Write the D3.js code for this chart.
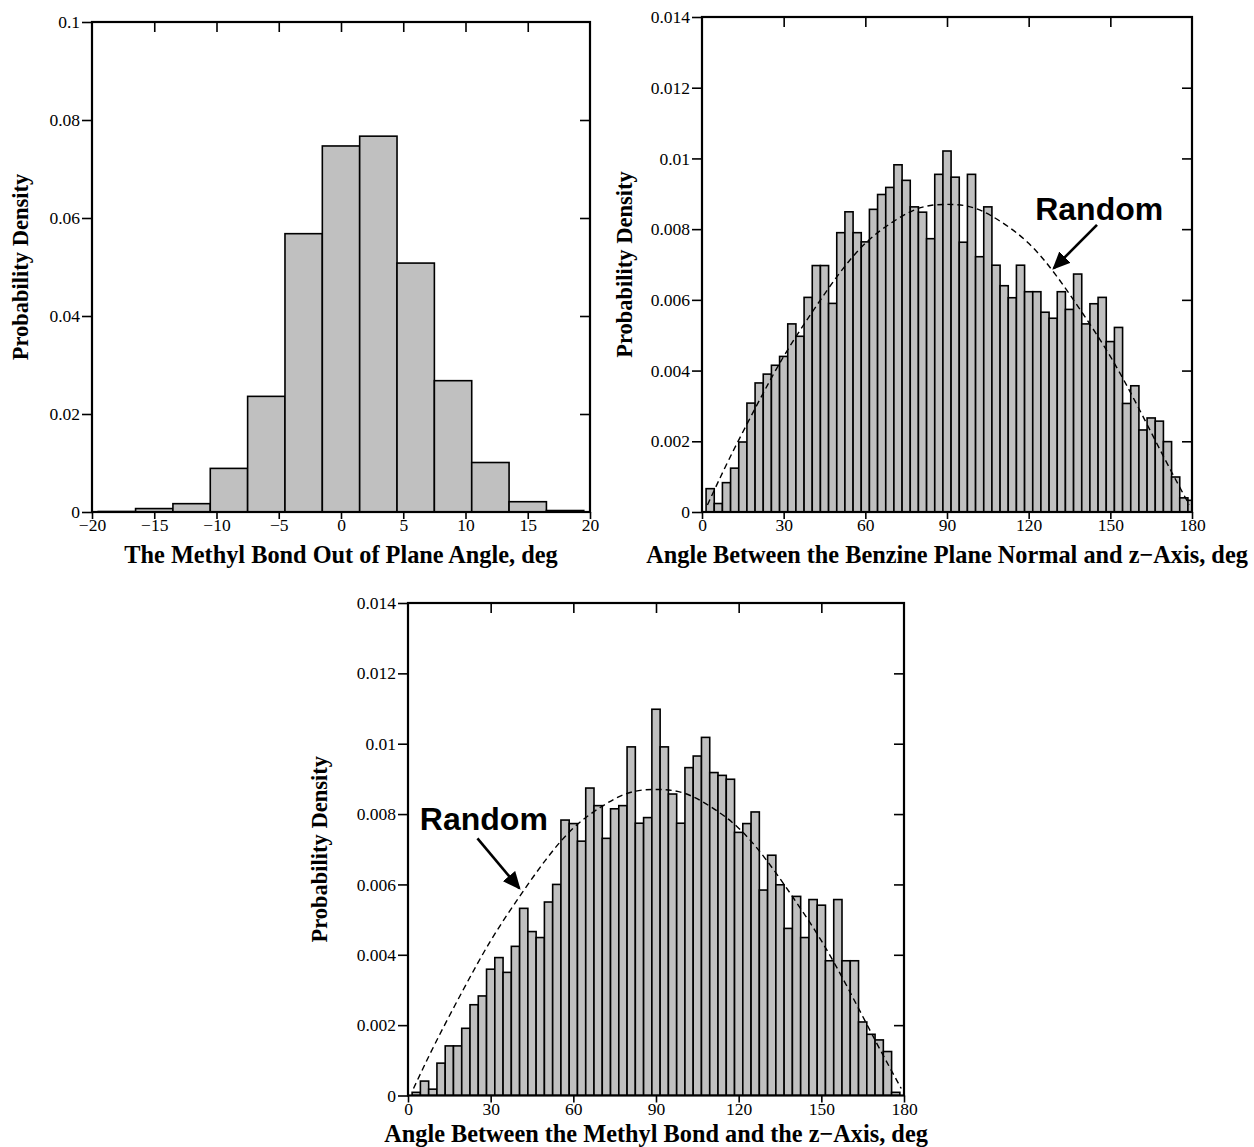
<!DOCTYPE html>
<html>
<head>
<meta charset="utf-8">
<style>
  body { margin: 0; background: #fff; }
  svg { display: block; }
  .tick text { font-family: "Liberation Serif", "Times New Roman", serif; font-size: 17.5px; fill: #000; }
  .tick line { stroke: #000; stroke-width: 1.6px; }
  .axis-title { font-family: "Liberation Serif", "Times New Roman", serif; font-weight: bold; font-size: 24.3px; fill: #000; }
  .y-title { font-family: "Liberation Serif", "Times New Roman", serif; font-weight: bold; font-size: 22.5px; fill: #000; }
  .note { font-family: "Liberation Sans", Arial, sans-serif; font-weight: bold; font-size: 32px; fill: #000; }
</style>
</head>
<body>
<div id="figure"></div>
<script src="https://cdn.jsdelivr.net/npm/d3@7"></script>
<script>

// data
var outOfPlaneBins    = [-18, -15, -12, -9, -6, -3, 0, 3, 6, 9, 12, 15, 18];
var outOfPlaneDensity = [0.0001, 0.0007, 0.0017, 0.0089, 0.0236, 0.0568, 0.0747,
                         0.0767, 0.0508, 0.0268, 0.0101, 0.0021, 0.0003];

// 3 degree bins, centred on 3, 6, ... 180
var angleBins = d3.range(3, 181, 3);

var benzeneDensity = [
  0.00066, 0.00024, 0.00083, 0.00124, 0.00198, 0.00308, 0.00365, 0.00390, 0.00415, 0.00440,
  0.00532, 0.00497, 0.00607, 0.00697, 0.00697, 0.00590, 0.00790, 0.00849, 0.00790, 0.00764,
  0.00856, 0.00898, 0.00918, 0.00982, 0.00938, 0.00863, 0.00848, 0.00773, 0.00955, 0.01021,
  0.00947, 0.00763, 0.00955, 0.00722, 0.00863, 0.00698, 0.00640, 0.00606, 0.00698, 0.00623,
  0.00623, 0.00565, 0.00548, 0.00623, 0.00573, 0.00673, 0.00532, 0.00589, 0.00607, 0.00482,
  0.00522, 0.00307, 0.00357, 0.00232, 0.00266, 0.00257, 0.00199, 0.00099, 0.00040, 0.00033
];

var methylDensity = [
  0.00009, 0.00041, 0.00018, 0.00092, 0.00141, 0.00141, 0.00191, 0.00258, 0.00283, 0.00359,
  0.00392, 0.00350, 0.00424, 0.00532, 0.00466, 0.00449, 0.00550, 0.00600, 0.00783, 0.00773,
  0.00723, 0.00874, 0.00824, 0.00731, 0.00815, 0.00824, 0.00991, 0.00774, 0.00790, 0.01098,
  0.00991, 0.00857, 0.00774, 0.00932, 0.00965, 0.01018, 0.00918, 0.00910, 0.00899, 0.00748,
  0.00773, 0.00806, 0.00584, 0.00683, 0.00599, 0.00475, 0.00566, 0.00449, 0.00557, 0.00541,
  0.00383, 0.00557, 0.00383, 0.00383, 0.00209, 0.00174, 0.00158, 0.00125, 0.00009, 0.00000
];

// dashed "Random" curve
var randomAngles  = [2, 10, 20, 30, 40, 50, 60, 70, 80, 90, 100, 110, 120, 130, 140, 150, 160, 170, 179];
var randomDensity = [0.0002, 0.0015, 0.0030, 0.0044, 0.0056, 0.0067, 0.0076, 0.0082, 0.0086, 0.0087,
                     0.0086, 0.0082, 0.0076, 0.0067, 0.0056, 0.0044, 0.0030, 0.0015, 0.0002];

// ticks
var outOfPlaneTicks        = [-20, -15, -10, -5, 0, 5, 10, 15, 20];
var outOfPlaneDensityTicks = [0, 0.02, 0.04, 0.06, 0.08, 0.1];
var angleTicks             = [0, 30, 60, 90, 120, 150, 180];
var angleDensityTicks      = [0, 0.002, 0.004, 0.006, 0.008, 0.01, 0.012, 0.014];


var svg = d3.select('#figure').append('svg')
    .attr('width', 1254)
    .attr('height', 1147);

svg.append('rect').attr('width', 1254).attr('height', 1147).attr('fill', '#fff');

svg.append('defs').append('marker')
    .attr('id', 'head')
    .attr('markerUnits', 'userSpaceOnUse')
    .attr('viewBox', '0 -8 18 16')
    .attr('refX', 16)
    .attr('refY', 0)
    .attr('markerWidth', 18)
    .attr('markerHeight', 16)
    .attr('orient', 'auto')
  .append('path')
    .attr('d', 'M0,-8L18,0L0,8Z')
    .attr('fill', '#000');

var fmt = d3.format('~g');

function histogram () {

  //config options
  var left = 0, right = 100, top = 0, bottom = 100
    , xDomain = [0, 1], yDomain = [0, 1]
    , xTicks = [], yTicks = []
    , bins = [], values = [], binWidth = 3
    , curveX = null, curveY = null
    , xTitle = '', yTitleX = 0, titleGap = 52
    , note = null
  ;

  function chart(selection) {
    selection.each(function () {

      var g = d3.select(this);
      var x = d3.scaleLinear().domain(xDomain).range([left, right]);
      var y = d3.scaleLinear().domain(yDomain).range([bottom, top]);

      var clipId = 'clip' + Math.round(left) + '_' + Math.round(top);
      g.append('clipPath').attr('id', clipId)
        .append('rect')
          .attr('x', left).attr('y', top)
          .attr('width', right - left).attr('height', bottom - top);

      var plot = g.append('g').attr('clip-path', 'url(#' + clipId + ')');

      plot.selectAll('rect.bar')
          .data(bins.map(function (b, i) { return { x: b, v: values[i] }; }))
          .enter()
          .append('rect')
          .attr('class', 'bar')
          .attr('x', function (d) { return x(Math.max(xDomain[0], d.x - binWidth / 2)); })
          .attr('width', function (d) {
            return x(Math.min(xDomain[1], d.x + binWidth / 2)) - x(Math.max(xDomain[0], d.x - binWidth / 2));
          })
          .attr('y', function (d) { return y(d.v); })
          .attr('height', function (d) { return y(0) - y(d.v); })
          .attr('fill', '#c0c0c0')
          .attr('stroke', '#000')
          .attr('stroke-width', 1.6);

      if (curveX) {
        var line = d3.line()
            .x(function (d, i) { return x(curveX[i]); })
            .y(function (d, i) { return y(curveY[i]); })
            .curve(d3.curveNatural);
        plot.append('path')
            .datum(curveX)
            .attr('d', line)
            .attr('fill', 'none')
            .attr('stroke', '#000')
            .attr('stroke-width', 1.4)
            .attr('stroke-dasharray', '6,4');
      }

      // axes
      var inner = function (t) { return t.slice(1, -1); };

      g.append('g')
          .attr('transform', 'translate(0,' + bottom + ')')
          .call(d3.axisBottom(x).tickValues(xTicks).tickSize(7).tickSizeOuter(0).tickPadding(0).tickFormat(fmt))
          .call(function (a) { a.select('.domain').remove(); });

      g.append('g')
          .attr('transform', 'translate(' + left + ',0)')
          .call(d3.axisLeft(y).tickValues(yTicks).tickSize(10).tickSizeOuter(0).tickPadding(2).tickFormat(fmt))
          .call(function (a) { a.select('.domain').remove(); });

      g.append('g')
          .attr('transform', 'translate(0,' + top + ')')
          .call(d3.axisBottom(x).tickValues(inner(xTicks)).tickSize(10).tickSizeOuter(0).tickFormat(''))
          .call(function (a) { a.select('.domain').remove(); });

      g.append('g')
          .attr('transform', 'translate(' + right + ',0)')
          .call(d3.axisLeft(y).tickValues(inner(yTicks)).tickSize(10).tickSizeOuter(0).tickFormat(''))
          .call(function (a) { a.select('.domain').remove(); });

      g.append('rect')
          .attr('x', left).attr('y', top)
          .attr('width', right - left).attr('height', bottom - top)
          .attr('fill', 'none')
          .attr('stroke', '#000')
          .attr('stroke-width', 2.2);

      // titles
      g.append('text')
          .attr('class', 'axis-title')
          .attr('x', (left + right) / 2)
          .attr('y', bottom + titleGap)
          .attr('text-anchor', 'middle')
          .text(xTitle);

      g.append('text')
          .attr('class', 'y-title')
          .attr('transform', 'translate(' + yTitleX + ',' + ((top + bottom) / 2) + ') rotate(-90)')
          .attr('text-anchor', 'middle')
          .text('Probability Density');

      if (note) {
        g.append('text')
            .attr('class', 'note')
            .attr('x', x(note.text[0]))
            .attr('y', y(note.text[1]))
            .text('Random');
        g.append('line')
            .attr('x1', x(note.tail[0])).attr('y1', y(note.tail[1]))
            .attr('x2', x(note.tip[0])).attr('y2', y(note.tip[1]))
            .attr('stroke', '#000')
            .attr('stroke-width', 2.6)
            .attr('marker-end', 'url(#head)');
      }
    });
  }

  // getter//setters
  chart.frame = function (l, r, t, b) { left = l; right = r; top = t; bottom = b; return chart; };
  chart.domains = function (xd, yd) { xDomain = xd; yDomain = yd; return chart; };
  chart.ticks = function (xt, yt) { xTicks = xt; yTicks = yt; return chart; };
  chart.data = function (b, v) { bins = b; values = v; return chart; };
  chart.curve = function (cx, cy) { curveX = cx; curveY = cy; return chart; };
  chart.titles = function (t, yx, gap) { xTitle = t; yTitleX = yx; titleGap = gap; return chart; };
  chart.note = function (value) { note = value; return chart; };

  return chart;
}


// methyl bond out of plane angle
svg.append('g').call(histogram()
    .frame(92, 590, 22, 512)
    .domains([-20, 20], [0, 0.1])
    .ticks(outOfPlaneTicks, outOfPlaneDensityTicks)
    .data(outOfPlaneBins, outOfPlaneDensity)
    .titles('The Methyl Bond Out of Plane Angle, deg', 28, 51));

// benzene plane normal
svg.append('g').call(histogram()
    .frame(702, 1192, 17, 512)
    .domains([0, 180], [0, 0.014])
    .ticks(angleTicks, angleDensityTicks)
    .data(angleBins, benzeneDensity)
    .curve(randomAngles, randomDensity)
    .titles('Angle Between the Benzine Plane Normal and z\u2212Axis, deg', 632, 51)
    .note({ text: [122.4, 0.00826], tail: [145.1, 0.00812], tip: [129.2, 0.00689] }));

// methyl bond vs z axis
svg.append('g').call(histogram()
    .frame(408, 904, 603, 1095.5)
    .domains([0, 180], [0, 0.014])
    .ticks(angleTicks, angleDensityTicks)
    .data(angleBins, methylDensity)
    .curve(randomAngles, randomDensity)
    .titles('Angle Between the Methyl Bond and the z\u2212Axis, deg', 327, 46)
    .note({ text: [4.3, 0.00756], tail: [25.2, 0.00731], tip: [40.4, 0.00589] }));

</script>
</body>
</html>
